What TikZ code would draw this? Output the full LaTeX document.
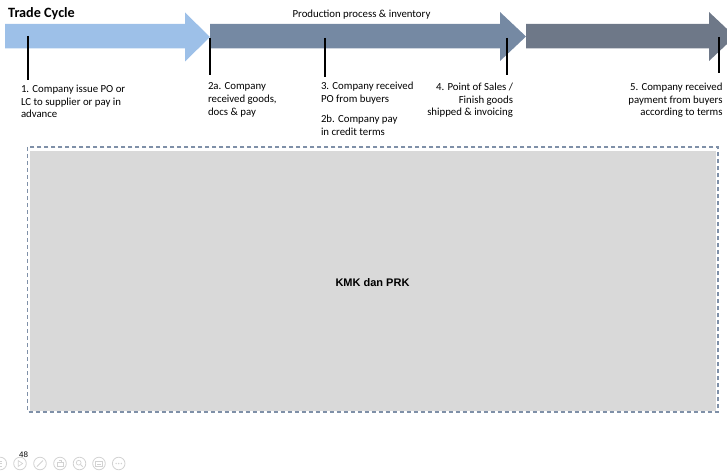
\documentclass[tikz,border=0pt]{standalone}
\usepackage{fontspec}
\setmainfont{Carlito}
\newfontfamily\arialfont{Liberation Sans}
\definecolor{arrowA}{HTML}{9DC0E8}
\definecolor{arrowB}{HTML}{7589A3}
\definecolor{arrowC}{HTML}{6E7888}
\definecolor{boxgray}{HTML}{D9D9D9}
\definecolor{dashblue}{HTML}{7F90A8}
\definecolor{icongray}{HTML}{D2D2D2}
\begin{document}
\begin{tikzpicture}[x=1pt,y=-1pt,
  lbl/.style={inner sep=0pt,outer sep=0pt,font=\fontsize{10.8}{12.7}\selectfont},
  lblL/.style={lbl,align=left,anchor=base west},
  lblR/.style={lbl,align=right,anchor=base east},
  tick/.style={draw=black,line width=1.1pt},
  icon/.style={draw=icongray,line width=0.8pt}]
\useasboundingbox (0,0) rectangle (727,473);
\clip (0,0) rectangle (727,473);
% arrows
\fill[arrowA] (5,24) -- (185,24) -- (185,12.5) -- (210,37) -- (185,61.5) -- (185,48.5) -- (5,48.5) -- cycle;
\fill[arrowB] (210,24) -- (500,24) -- (500,12) -- (526,36.5) -- (500,61) -- (500,48.5) -- (210,48.5) -- cycle;
\fill[arrowC] (526,24) -- (709,24) -- (709,12) -- (735,36.5) -- (709,61) -- (709,48.5) -- (526,48.5) -- cycle;
% titles
\node[inner sep=0pt,anchor=base west,font=\fontsize{14.2}{17}\selectfont\bfseries] (title) at (8,17.5) {Trade Cycle};
\node[lbl,anchor=base] (prod) at (361.5,17.5) {Production process \& inventory};
% ticks
\coordinate (t1a) at (28,36);   \coordinate (t1b) at (28,80);
\coordinate (t2a) at (210,38);  \coordinate (t2b) at (210,75);
\coordinate (t3a) at (325,38);  \coordinate (t3b) at (325,77);
\coordinate (t4a) at (507,38);  \coordinate (t4b) at (507,75);
\coordinate (t5a) at (719,37);  \coordinate (t5b) at (719,73);
\draw[tick] (t1a) -- (t1b);
\draw[tick] (t2a) -- (t2b);
\draw[tick] (t3a) -- (t3b);
\draw[tick] (t4a) -- (t4b);
\draw[tick] (t5a) -- (t5b);
% labels (anchor = baseline of last line)
\node[lblL] (s1) at (21,117.9) {1. Company issue PO or\\LC to supplier or pay in\\advance};
\node[lblL] (s2a) at (208,115.4) {2a. Company\\received goods,\\docs \& pay};
\node[lblL] (s3) at (321,102.7) {3. Company received\\PO from buyers};
\node[lblL] (s2b) at (321,135.3) {2b. Company pay\\in credit terms};
\node[lblR] (s4) at (513,115.9) {4. Point of Sales /\\Finish goods\\shipped \& invoicing};
\node[lblR] (s5) at (722.5,115.9) {5. Company received\\payment from buyers\\according to terms};
% box
\fill[boxgray] (30.3,151.5) rectangle (716,410.5);
\draw[dashblue,line width=1.1pt,dash pattern=on 4pt off 3pt] (27.7,147) rectangle (718,412);
\node[inner sep=0pt,font=\arialfont\fontsize{11}{13}\selectfont\bfseries] (kmk) at (372.5,283) {KMK dan PRK};
% footer
\node[inner sep=0pt,anchor=base west,font=\arialfont\fontsize{8}{9}\selectfont] (page) at (19,457.3) {48};
\node[icon,circle,minimum size=12.6pt,inner sep=0pt] (i0) at (0.3,463.5) {};
\node[icon,circle,minimum size=12.6pt,inner sep=0pt] (i1) at (20,463.5) {};
\node[icon,circle,minimum size=12.6pt,inner sep=0pt] (i2) at (40,463.5) {};
\node[icon,circle,minimum size=12.6pt,inner sep=0pt] (i3) at (60,463.5) {};
\node[icon,circle,minimum size=12.6pt,inner sep=0pt] (i4) at (79.5,463.5) {};
\node[icon,circle,minimum size=12.6pt,inner sep=0pt] (i5) at (99,463.5) {};
\node[icon,circle,minimum size=12.6pt,inner sep=0pt] (i6) at (118.7,463.5) {};
\draw[icon,line width=0.6pt] (-1,461) -- (1.5,461) (-1,463.5) -- (1.5,463.5) (-1,466) -- (1.5,466);
\draw[icon,line width=0.6pt] ([shift={(-1.8,-3)}]i1.center) -- ([shift={(2.6,0)}]i1.center) -- ([shift={(-1.8,3)}]i1.center) -- cycle;
\draw[icon,line width=1pt] ([shift={(-3,3)}]i2.center) -- ([shift={(3,-3)}]i2.center);
\draw[icon,line width=0.6pt] ([shift={(-2.8,-1.5)}]i3.center) rectangle ([shift={(2.8,3.2)}]i3.center);
\draw[icon,line width=0.6pt] ([shift={(-1.5,-3.2)}]i3.center) -- ([shift={(1.5,-3.2)}]i3.center) -- ([shift={(1.5,-1.5)}]i3.center);
\draw[icon,line width=0.7pt] ([shift={(-0.8,-0.8)}]i4.center) circle (2.4pt);
\draw[icon,line width=0.9pt] ([shift={(1,1)}]i4.center) -- ([shift={(3.2,3.2)}]i4.center);
\draw[icon,line width=0.6pt] ([shift={(-3.3,-2.6)}]i5.center) rectangle ([shift={(3.3,2.6)}]i5.center);
\draw[icon,line width=0.6pt] ([shift={(-2,0.8)}]i5.center) -- ([shift={(2,0.8)}]i5.center);
\fill[icongray] ([shift={(-2.6,0)}]i6.center) circle (0.8pt) (i6.center) circle (0.8pt) ([shift={(2.6,0)}]i6.center) circle (0.8pt);
\end{tikzpicture}
\end{document}
